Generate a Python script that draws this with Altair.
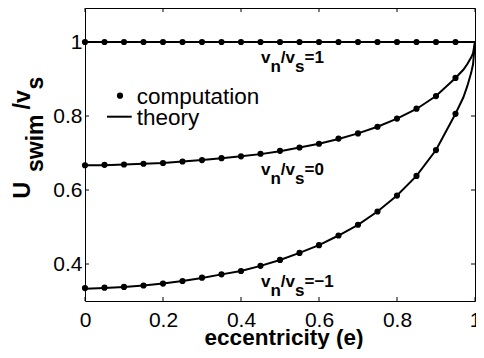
import altair as alt
import pandas as pd

FONT = "Liberation Sans"

# ---- data ----
e_comp = [0.00, 0.05, 0.10, 0.15, 0.20, 0.25, 0.30, 0.35, 0.40, 0.45,
          0.50, 0.55, 0.60, 0.65, 0.70, 0.75, 0.80, 0.85, 0.90, 0.95]
comp_p1 = [1.0, 1.0, 1.0, 1.0, 1.0, 1.0, 1.0, 1.0, 1.0, 1.0,
           1.0, 1.0, 1.0, 1.0, 1.0, 1.0, 1.0, 1.0, 1.0, 1.0]
comp_0 = [0.667, 0.668, 0.669, 0.671, 0.673, 0.677, 0.681, 0.686, 0.691, 0.698,
          0.706, 0.715, 0.725, 0.739, 0.753, 0.771, 0.793, 0.820, 0.854, 0.903]
comp_m1 = [0.335, 0.336, 0.338, 0.342, 0.347, 0.354, 0.363, 0.372, 0.381, 0.395,
           0.411, 0.430, 0.451, 0.477, 0.506, 0.542, 0.585, 0.638, 0.708, 0.806]

e_theory = [0.00, 0.05, 0.10, 0.15, 0.20, 0.25, 0.30, 0.35, 0.40, 0.45,
            0.50, 0.55, 0.60, 0.65, 0.70, 0.75, 0.80, 0.85, 0.90, 0.95,
            0.97, 0.98, 0.99, 0.995, 1.00]
theory_p1 = [1.0] * len(e_theory)
theory_0 = [0.667, 0.667, 0.669, 0.671, 0.673, 0.677, 0.681, 0.686, 0.691, 0.697,
            0.705, 0.715, 0.725, 0.738, 0.753, 0.771, 0.793, 0.819, 0.854, 0.903,
            0.925, 0.940, 0.958, 0.970, 1.000]
theory_m1 = [0.333, 0.335, 0.338, 0.342, 0.347, 0.354, 0.362, 0.372, 0.381, 0.395,
             0.411, 0.430, 0.451, 0.477, 0.506, 0.542, 0.585, 0.638, 0.708, 0.806,
             0.850, 0.880, 0.916, 0.940, 1.000]

series_names = ["vn/vs=1", "vn/vs=0", "vn/vs=-1"]
x_ticks = [0, 0.2, 0.4, 0.6, 0.8, 1.0]
y_ticks = [0.4, 0.6, 0.8, 1.0]
legend_labels = ["computation", "theory"]
x_title = "eccentricity (e)"
annot_values = ["1", "0", "\u22121"]

# ---- tables ----
theory_df = pd.concat([
    pd.DataFrame({"e": e_theory, "u": v, "series": s})
    for v, s in zip([theory_p1, theory_0, theory_m1], series_names)
])
comp_df = pd.concat([
    pd.DataFrame({"e": e_comp, "u": v, "series": s})
    for v, s in zip([comp_p1, comp_0, comp_m1], series_names)
])
dummy = pd.DataFrame({"a": [0]})

W, H = 390, 293
xscale = alt.Scale(domain=[0, 1], nice=False, zero=False)
yscale = alt.Scale(domain=[0.3, 1.092], nice=False, zero=False)

xaxis = alt.Axis(values=x_ticks, format="~g", title=None, ticks=False, tickSize=0,
                 domain=False, grid=False, labelFont=FONT, labelFontSize=21,
                 labelColor="black", labelPadding=8, labelFlush=False,
                 labelOverlap=False, labelBound=False)
yaxis = alt.Axis(values=y_ticks, format="~g", title=None, ticks=False, tickSize=0,
                 domain=False, grid=False, labelFont=FONT, labelFontSize=21,
                 labelColor="black", labelPadding=3, labelOverlap=False,
                 labelBound=False)

X = lambda f: alt.X(f, scale=xscale, axis=xaxis)
Y = lambda f: alt.Y(f, scale=yscale, axis=yaxis)

lines = alt.Chart(theory_df).mark_line(color="black", strokeWidth=2).encode(
    x=X("e:Q"), y=Y("u:Q"), detail="series:N",
)
points = alt.Chart(comp_df).mark_circle(color="black", size=38, opacity=1).encode(
    x=X("e:Q"), y=Y("u:Q"),
)

# inward ticks (MATLAB style)
xt_df = pd.DataFrame({"e": x_ticks})
yt_df = pd.DataFrame({"u": y_ticks})
tick_bottom = alt.Chart(xt_df).mark_rule(color="black", strokeWidth=1).encode(
    x=X("e:Q"), y=alt.value(H), y2=alt.value(H - 4))
tick_top = alt.Chart(xt_df).mark_rule(color="black", strokeWidth=1).encode(
    x=X("e:Q"), y=alt.value(0), y2=alt.value(4))
tick_left = alt.Chart(yt_df).mark_rule(color="black", strokeWidth=1).encode(
    y=Y("u:Q"), x=alt.value(0), x2=alt.value(4))
tick_right = alt.Chart(yt_df).mark_rule(color="black", strokeWidth=1).encode(
    y=Y("u:Q"), x=alt.value(W), x2=alt.value(W - 4))


def txt(s, x, y, size, weight="normal", angle=0, align="left"):
    return alt.Chart(dummy).mark_text(
        text=s, font=FONT, fontSize=size, fontWeight=weight, angle=angle,
        align=align, baseline="alphabetic", color="black"
    ).encode(x=alt.value(x), y=alt.value(y))


layers = [lines, points, tick_bottom, tick_top, tick_left, tick_right]

# legend
layers.append(alt.Chart(dummy).mark_circle(color="black", size=38, opacity=1).encode(
    x=alt.value(35), y=alt.value(87.7)))
layers.append(alt.Chart(dummy).mark_rule(color="black", strokeWidth=2).encode(
    x=alt.value(22), x2=alt.value(46.7), y=alt.value(108.7)))
layers.append(txt(legend_labels[0], 51.7, 95.5, 22.5))
layers.append(txt(legend_labels[1], 51.7, 116.5, 22.5))

# x title
layers.append(txt(x_title, W / 2 + 4, 336.5, 22.5, weight="bold", align="center"))

# y title: U_swim / v_s  (rotated)
fs_y = 23
main_x, sub_x = -55, -42
pieces = [("U", main_x, 190.5), ("swim", sub_x, 164.0), ("/v", main_x, 101.5), ("s", sub_x, 81.5)]
for s, px, py in pieces:
    layers.append(txt(s, px, py, fs_y, weight="bold", angle=270))

# annotations v_n/v_s = value
fs_a = 17
for val, by in zip(annot_values, [55.0, 167.0, 278.5]):
    ax = 176.0
    parts = [("v", 0.0, 0.556), ("n", 9.0, 0.611), ("/v", 0.0, 0.834), ("s", 9.0, 0.556), ("=" + val, 0.0, 0)]
    for s, shift, w in parts:
        layers.append(txt(s, ax, by + shift, fs_a, weight="bold"))
        ax += w * fs_a

chart = alt.layer(*layers).properties(
    width=W, height=H,
    autosize=alt.AutoSizeParams(type="none"),
    padding={"left": 77, "top": 0, "right": 1, "bottom": 48},
).configure_view(stroke="black", strokeWidth=1)

chart.save("out.html", embed_options={"renderer": "svg", "actions": False})
